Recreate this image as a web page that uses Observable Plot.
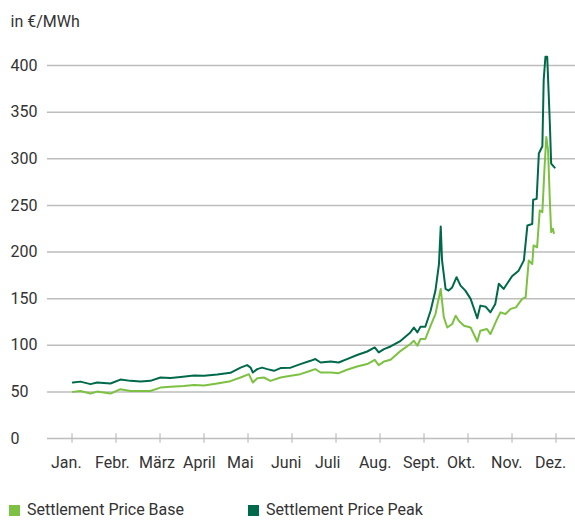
<!DOCTYPE html>
<html>
<head>
<meta charset="utf-8">
<script src="https://cdn.jsdelivr.net/npm/d3@7"></script>
<script src="https://cdn.jsdelivr.net/npm/@observablehq/plot@0.6"></script>
<style>
  body { margin: 0; background: #fff; font-family: Roboto, "Noto Sans", sans-serif; color: #333; }
  #legend { display: flex; position: relative; height: 30px; font-size: 16px; }
  .item { position: absolute; top: 12px; display: flex; align-items: center; line-height: 16px; }
  .sw { width: 11px; height: 11px; margin-right: 7px; }
</style>
</head>
<body>
<div id="chart"></div>
<div id="legend"></div>
<script>
// month positions (0 = Jan. tick) and values
const monthLabels = ["Jan.", "Febr.", "März", "April", "Mai", "Juni", "Juli", "Aug.", "Sept.", "Okt.", "Nov.", "Dez."];
const yTicks = [0, 50, 100, 150, 200, 250, 300, 350, 400];

const peakX = [0.02,0.19,0.42,0.57,0.875,1.10,1.33,1.56,1.78,2.01,2.24,2.47,2.77,3.00,3.30,3.60,3.83,3.98,4.06,4.11,4.21,4.32,4.44,4.59,4.74,4.97,5.19,5.42,5.53,5.65,5.88,6.06,6.25,6.48,6.71,6.88,6.97,7.09,7.24,7.47,7.69,7.77,7.85,7.92,8.03,8.15,8.26,8.34,8.38,8.41,8.49,8.56,8.64,8.74,8.83,8.94,9.06,9.21,9.28,9.40,9.51,9.62,9.70,9.81,10.00,10.15,10.27,10.35,10.46,10.48,10.56,10.61,10.69,10.72,10.76,10.80,10.86,10.89,10.97];
const peakY = [60,61,58.3,60,59,63.2,61.8,61,61.8,65.4,65,66,67.5,67.2,68.6,70.4,76,78.7,76,70.8,74.4,76,74.4,72.6,75.5,76,79.8,83.3,85.2,81.5,82.6,81.5,85.2,89.5,93.3,97.6,92.3,95.9,98.7,104.8,113.8,119,113.8,119.9,119.9,137,158.6,187,227.4,190.9,160.4,158.6,162,173,164,158.6,149.7,129,142.5,141.4,135.3,144.3,166,160.4,174,180,191,228.5,230,256,257,305.6,313.4,384.4,409.5,409.5,337.8,294.8,290.5];

const baseX = [0.02,0.19,0.42,0.57,0.875,1.10,1.33,1.56,1.78,2.01,2.24,2.54,2.77,3.00,3.30,3.60,3.83,4.02,4.11,4.21,4.36,4.51,4.74,4.97,5.19,5.42,5.53,5.65,5.88,6.06,6.25,6.48,6.71,6.88,6.97,7.09,7.24,7.47,7.69,7.77,7.85,7.92,8.03,8.15,8.26,8.38,8.45,8.53,8.64,8.72,8.79,8.91,9.06,9.21,9.28,9.43,9.51,9.66,9.74,9.85,9.97,10.09,10.23,10.31,10.38,10.46,10.49,10.57,10.63,10.69,10.74,10.78,10.82,10.86,10.89,10.93,10.95];
const baseY = [50,51,48.2,50.3,48.2,52.9,51,51,51,54.6,55.4,56.4,57.5,56.8,59,61.5,65.4,69,60,64.7,65.4,61.8,65.4,67.2,69,72.6,74.4,70.8,70.8,70.1,73.7,77.2,79.8,84.4,78.7,82.5,84.4,94,101.3,104.8,99.5,106.7,106.7,121,133.5,160.4,130,119,122.8,131.7,126.3,121,119,104,115.6,117.4,112,128,135.3,133.5,139,140.6,149.7,151.4,190.9,187,207,205,244.6,242.8,291.2,323.4,309,255,221.3,225,220.2];

const seriesNames = ["Settlement Price Base", "Settlement Price Peak"];
const colors = ["#7dc143", "#00694a"];

const base = baseX.map((x, i) => ({x, y: baseY[i]}));
const peak = peakX.map((x, i) => ({x, y: peakY[i]}));
const monthIdx = monthLabels.map((_, i) => i);

const font = "Roboto, 'Noto Sans', sans-serif";
const chart = Plot.plot({
  width: 575,
  height: 490,
  marginLeft: 47,
  marginRight: 0,
  marginTop: 65,
  marginBottom: 52,
  style: {fontFamily: font, fontSize: "16px", color: "#333", background: "#fff"},
  x: {domain: [-0.557, 11.443], axis: null},
  y: {domain: [0, 400], axis: null},
  marks: [
    Plot.ruleY(yTicks, {stroke: "#bdbdbd", strokeWidth: 1.5}),
    Plot.ruleX(monthIdx, {x: d => d, y1: -5.2, y2: 5.2, stroke: "#bdbdbd", strokeWidth: 1.2}),
    Plot.text(yTicks, {y: d => d, text: d => String(d), frameAnchor: "left", textAnchor: "start", dx: -37, fill: "#333", fontSize: 16}),
    Plot.text(monthIdx, {x: d => d, text: d => monthLabels[d], frameAnchor: "bottom", textAnchor: "start", dx: -21, dy: 29, fill: "#333", fontSize: 16}),
    Plot.text(["in €/MWh"], {text: d => d, frameAnchor: "top-left", textAnchor: "start", dx: -37, dy: -50, fill: "#333", fontSize: 16}),
    Plot.line(base, {x: "x", y: "y", stroke: colors[0], strokeWidth: 2}),
    Plot.line(peak, {x: "x", y: "y", stroke: colors[1], strokeWidth: 2})
  ]
});
document.getElementById("chart").appendChild(chart);

const legend = document.getElementById("legend");
const lefts = [9, 248];
seriesNames.forEach((name, i) => {
  const it = document.createElement("div");
  it.className = "item";
  it.style.left = lefts[i] + "px";
  it.innerHTML = `<span class="sw" style="background:${colors[i]}"></span><span>${name}</span>`;
  legend.appendChild(it);
});
</script>
</body>
</html>
